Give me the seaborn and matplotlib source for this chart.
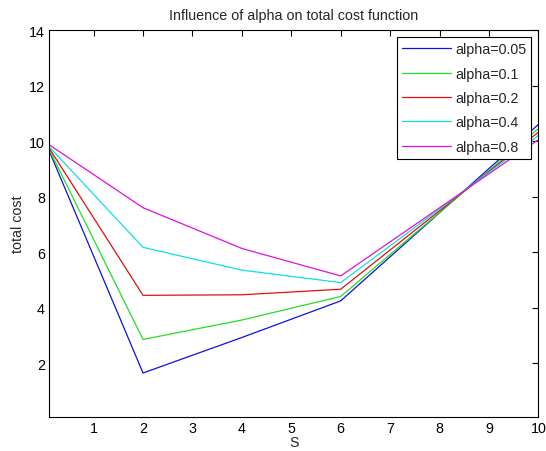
import numpy as np
import pandas as pd
import matplotlib
matplotlib.use("Agg")
import matplotlib.pyplot as plt
import seaborn as sns

# Order quantity S and total cost for each smoothing factor alpha
S = [0.1, 2, 4, 6, 10]
alpha_labels = ["alpha=0.05", "alpha=0.1", "alpha=0.2", "alpha=0.4", "alpha=0.8"]
cost_a005 = [9.65, 1.64, 2.92, 4.24, 10.60]
cost_a01 = [9.70, 2.85, 3.55, 4.40, 10.45]
cost_a02 = [9.75, 4.44, 4.46, 4.66, 10.32]
cost_a04 = [9.80, 6.17, 5.35, 4.90, 10.20]
cost_a08 = [9.87, 7.60, 6.13, 5.14, 10.05]
colors = ["#1010e0", "#22e022", "#e01010", "#10e0e0", "#e010e0"]

x_ticks = [1, 2, 3, 4, 5, 6, 7, 8, 9, 10]
y_ticks = [2, 4, 6, 8, 10, 12, 14]

series = [cost_a005, cost_a01, cost_a02, cost_a04, cost_a08]
df = pd.concat(
    [pd.DataFrame({"S": S, "total cost": vals, "alpha": lab})
     for lab, vals in zip(alpha_labels, series)],
    ignore_index=True,
)

sns.set_style("white")
plt.rcParams["font.family"] = ["Liberation Sans", "DejaVu Sans"]
FS = 10.3

fig = plt.figure(figsize=(5.46, 4.52), dpi=100)
ax = fig.add_axes([0.090, 0.075, 0.896, 0.856])

sns.lineplot(data=df, x="S", y="total cost", hue="alpha",
             palette=colors, linewidth=0.9, ax=ax, sort=False,
             estimator=None)

ax.set_xlim(0.1, 10)
ax.set_ylim(0.05, 14)
ax.set_xticks(x_ticks)
ax.set_yticks(y_ticks)
ax.tick_params(direction="in", length=4, width=0.8, top=True, right=True,
               labelsize=FS, colors="black", pad=3)
for sp in ax.spines.values():
    sp.set_color("black")
    sp.set_linewidth(0.8)

ax.set_title("Influence of alpha on total cost function", fontsize=FS, pad=8)
ax.set_xlabel("S", fontsize=FS, labelpad=0)
ax.set_ylabel("total cost", fontsize=FS, labelpad=3)

leg = ax.legend(loc="upper right", fontsize=FS, handlelength=3.4,
                handletextpad=0.3, borderpad=0.35, labelspacing=0.72,
                fancybox=False, framealpha=1, borderaxespad=0.5)
leg.set_title(None)
leg.get_frame().set_edgecolor("black")
leg.get_frame().set_linewidth(0.8)

fig.savefig("out.png", dpi=100)
